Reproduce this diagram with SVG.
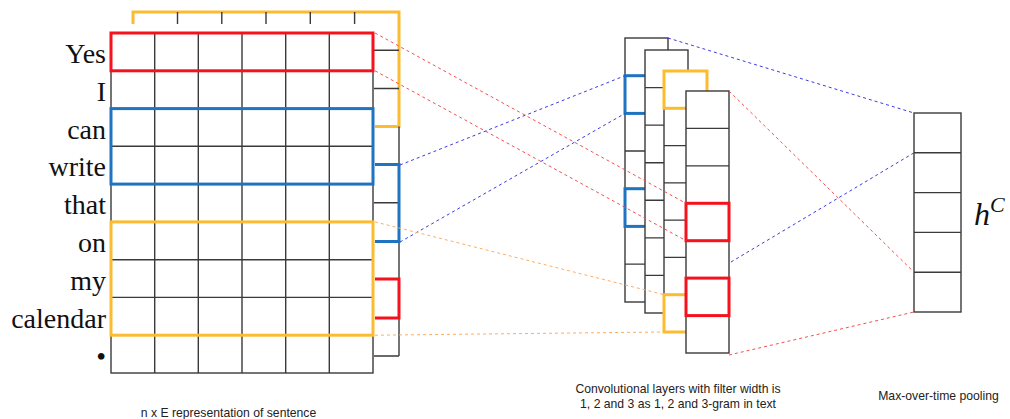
<svg xmlns="http://www.w3.org/2000/svg" width="1010" height="419" viewBox="0 0 1010 419">
<style>
.g{fill:none;stroke:#3a3a3a;stroke-width:1.4}
.cell{fill:#fff;stroke:#3a3a3a;stroke-width:1.4}
.red{fill:none;stroke:#f5121d;stroke-width:3}
.blue{fill:none;stroke:#1f74c1;stroke-width:3}
.yel{fill:none;stroke:#fbbc30;stroke-width:3}
.word{font-family:"Liberation Serif","Times New Roman",serif;font-size:28px;fill:#111;text-anchor:end}
.lab{font-family:"Liberation Sans",Arial,sans-serif;font-size:12.2px;fill:#222;text-anchor:middle}
.dr{stroke:#f45050;stroke-width:1;stroke-dasharray:3 3;fill:none}
.db{stroke:#3b3be6;stroke-width:1;stroke-dasharray:3 3;fill:none}
.do{stroke:#ffad60;stroke-width:1;stroke-dasharray:3 3;fill:none}
</style>
<rect width="1010" height="419" fill="#fff"/>

<g id="embedding-back">
  <path class="yel" d="M133,24 V12 H399 V126.5 H375"/>
  <path class="g" d="M177.5,12 V24 M221.8,12 V24 M266,12 V24 M310.3,12 V24 M354.6,12 V24"/>
  <path class="g" d="M374,50.2 H399 M374,88.5 H399 M374,202.8 H399 M374,356 H399 M399,126.5 V164.5 M399,241.5 V279 M399,318 V356"/>
  <path class="blue" d="M375,164.5 H399 V241.5 H375"/>
  <path class="red" d="M375,279 H399 V318 H375"/>
</g>

<g id="embedding-front">
  <rect class="cell" x="111" y="33" width="262" height="340"/>
  <path class="g" d="M154.7,33 V373 M198.3,33 V373 M242,33 V373 M285.7,33 V373 M329.3,33 V373
    M111,70.8 H373 M111,108.6 H373 M111,146.3 H373 M111,184.1 H373 M111,221.9 H373 M111,259.7 H373 M111,297.4 H373 M111,335.2 H373"/>
  <rect class="red" x="111" y="33" width="262" height="37.8"/>
  <rect class="blue" x="111" y="108.6" width="262" height="75.5"/>
  <rect class="yel" x="111" y="221.9" width="262" height="113.3"/>
</g>

<g id="words">
  <text class="word" x="106" y="63">Yes</text>
  <text class="word" x="106" y="100.8">I</text>
  <text class="word" x="106" y="138.6">can</text>
  <text class="word" x="106" y="176.4">write</text>
  <text class="word" x="106" y="214.2">that</text>
  <text class="word" x="106" y="252">on</text>
  <text class="word" x="106" y="289.8">my</text>
  <text class="word" x="106" y="327.6">calendar</text>
  <text class="word" x="106" y="366">•</text>
</g>

<g id="conv-layer-1">
  <rect class="cell" x="625" y="38" width="43" height="264"/>
  <path class="g" d="M625,75.7 H668 M625,113.4 H668 M625,151 H668 M625,188.7 H668 M625,226.4 H668 M625,264.1 H668"/>
  <rect class="blue" x="625" y="75.7" width="43" height="37.7"/>
  <rect class="blue" x="625" y="188.7" width="43" height="37.7"/>
</g>
<g id="conv-layer-2">
  <rect class="cell" x="645" y="50" width="43" height="263"/>
  <path class="g" d="M645,87.6 H688 M645,125.1 H688 M645,162.7 H688 M645,200.3 H688 M645,237.9 H688 M645,275.4 H688"/>
</g>
<g id="conv-layer-3">
  <rect class="cell" x="664" y="71" width="43" height="261"/>
  <path class="g" d="M664,108.3 H707 M664,145.6 H707 M664,182.9 H707 M664,220.1 H707 M664,257.4 H707 M664,294.7 H707"/>
  <rect class="yel" x="664" y="71" width="43" height="37.3"/>
  <rect class="yel" x="664" y="294.7" width="43" height="37.3"/>
</g>
<g id="conv-layer-4">
  <rect class="cell" x="686" y="91" width="43" height="262"/>
  <path class="g" d="M686,128.4 H729 M686,165.9 H729 M686,203.3 H729 M686,240.7 H729 M686,278.1 H729 M686,315.6 H729"/>
  <rect class="red" x="686" y="203.3" width="43" height="37.4"/>
  <rect class="red" x="686" y="278.1" width="43" height="37.5"/>
</g>

<g id="pooling">
  <rect class="cell" x="914" y="113" width="47" height="199"/>
  <path class="g" d="M914,152.8 H961 M914,192.6 H961 M914,232.4 H961 M914,272.2 H961"/>
</g>

<g id="hC">
  <text x="974" y="225" font-family="'Liberation Serif','Times New Roman',serif" font-style="italic" font-size="32" fill="#111">h<tspan font-size="22" dy="-13">C</tspan></text>
</g>

<g id="connectors">
  <line class="dr" x1="375" y1="33" x2="686" y2="203.3"/>
  <line class="dr" x1="375" y1="70.8" x2="686" y2="240.7"/>
  <line class="db" x1="400" y1="165" x2="625" y2="75.7"/>
  <line class="db" x1="400" y1="242" x2="625" y2="113.4"/>
  <line class="do" x1="375" y1="221.9" x2="664" y2="294.7"/>
  <line class="do" x1="375" y1="335.2" x2="664" y2="332"/>
  <line class="db" x1="668" y1="38" x2="914" y2="113"/>
  <line class="db" x1="731" y1="262" x2="914" y2="152.8"/>
  <line class="dr" x1="729" y1="91" x2="914" y2="272.2"/>
  <line class="dr" x1="729" y1="355" x2="914" y2="312"/>
</g>

<g id="labels">
  <text class="lab" x="228.5" y="416.5">n x E representation of sentence</text>
  <text class="lab" x="678" y="393">Convolutional layers with filter width is</text>
  <text class="lab" x="678" y="408">1, 2 and 3 as 1, 2 and 3-gram in text</text>
  <text class="lab" x="938.5" y="400">Max-over-time pooling</text>
</g>
</svg>
